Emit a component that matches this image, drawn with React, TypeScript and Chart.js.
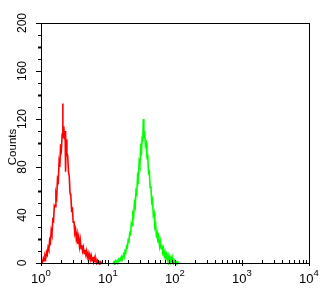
import React, { useEffect, useRef } from 'react';
import { Chart, registerables } from 'chart.js';

Chart.register(...registerables);

// Histogram channels (0..1024 = 4 log decades) and counts
const redChannels = [0, 3, 6, 9, 12, 15, 18, 21, 24, 27, 30, 33, 36, 39, 42, 45, 48, 51, 54, 57, 60, 63, 66, 69, 72, 75, 78, 81, 83, 84, 87, 90, 92, 94, 96, 99, 102, 105, 108, 111, 114, 117, 120, 123, 126, 129, 132, 135, 138, 141, 144, 147, 150, 153, 156, 159, 162, 165, 168, 171, 174, 177, 180, 183, 186, 189, 192, 195, 198, 201, 204, 207, 210, 213, 216, 219, 222, 225, 228, 231];
const redCounts = [0, 2, 1, 4, 2, 6, 4, 9, 7, 13, 11, 19, 17, 27, 24, 36, 35, 48, 47, 58, 55, 70, 68, 84, 80, 99, 95, 108, 133, 104, 114, 103, 110, 76, 103, 92, 89, 76, 72, 58, 56, 44, 45, 34, 35, 25, 28, 20, 24, 16, 21, 14, 19, 12, 15, 10, 13, 8, 11, 7, 10, 5, 8, 4, 7, 3, 6, 2, 5, 1, 4, 1, 3, 0, 2, 0, 1, 0, 1, 0];

const greenChannels = [276, 279, 282, 285, 288, 291, 294, 297, 300, 303, 306, 309, 312, 315, 318, 321, 324, 327, 330, 333, 336, 339, 342, 345, 348, 351, 354, 357, 360, 363, 366, 369, 372, 375, 378, 381, 384, 387, 389, 391, 393, 396, 399, 402, 405, 408, 411, 414, 417, 420, 423, 426, 429, 432, 435, 438, 441, 444, 447, 450, 453, 456, 459, 462, 465, 468, 471, 474, 477, 480, 483, 486, 489, 492, 495, 498, 501, 504, 507, 510, 513, 516, 519, 522, 525, 528];
const greenCounts = [0, 1, 0, 2, 1, 2, 1, 3, 2, 4, 2, 5, 4, 7, 5, 10, 9, 14, 13, 19, 18, 25, 24, 33, 31, 41, 39, 50, 47, 60, 58, 72, 69, 84, 81, 96, 93, 106, 101, 120, 104, 110, 98, 100, 88, 89, 75, 76, 63, 64, 51, 53, 40, 42, 30, 32, 23, 25, 17, 21, 14, 18, 12, 15, 9, 12, 6, 9, 4, 7, 3, 6, 2, 5, 1, 4, 1, 3, 0, 2, 0, 1, 0, 1, 0, 0];

const xDecadeExponents = ['0', '1', '2', '3', '4'];
const channelsPerDecade = 256;
const yTickValues = [0, 40, 80, 120, 160, 200];
const yAxisTitle = 'Counts';

const flowAxes = {
  id: 'flowAxes',
  afterDraw(chart: any) {
    const { ctx, chartArea: a, scales } = chart;
    const xs = scales.x;
    const ys = scales.y;
    ctx.save();
    ctx.strokeStyle = '#000';
    ctx.fillStyle = '#000';
    ctx.lineWidth = 1;
    // frame
    ctx.strokeRect(a.left + 0.5, a.top + 0.5, a.right - a.left, a.bottom - a.top);

    // y ticks every 10
    for (let v = 0; v <= 200; v += 10) {
      const py = Math.round(ys.getPixelForValue(v)) + 0.5;
      const major = v % 40 === 0;
      const mid = v % 20 === 0;
      ctx.lineWidth = mid && !major ? 2 : 1;
      ctx.beginPath();
      ctx.moveTo(a.left, py);
      ctx.lineTo(a.left - (major ? 5 : 3), py);
      ctx.stroke();
    }
    ctx.lineWidth = 1;

    // y labels
    ctx.font = '12px "Liberation Sans", Arial, sans-serif';
    ctx.textAlign = 'center';
    ctx.textBaseline = 'middle';
    yTickValues.forEach((v) => {
      const py = ys.getPixelForValue(v);
      ctx.save();
      ctx.translate(23, py);
      ctx.rotate(-Math.PI / 2);
      ctx.fillText(String(v), 0, 0);
      ctx.restore();
    });

    // y title
    ctx.save();
    ctx.font = '11.5px "Liberation Sans", Arial, sans-serif';
    ctx.translate(13, 147);
    ctx.rotate(-Math.PI / 2);
    ctx.fillText(yAxisTitle, 0, 0);
    ctx.restore();

    // x ticks (log minor)
    for (let d = 0; d < 4; d++) {
      for (let k = 2; k <= 9; k++) {
        const px = Math.round(xs.getPixelForValue(channelsPerDecade * (d + Math.log10(k)))) + 0.5;
        ctx.beginPath();
        ctx.moveTo(px, a.bottom);
        ctx.lineTo(px, a.bottom - 3);
        ctx.stroke();
      }
    }
    xDecadeExponents.forEach((e, i) => {
      const px = Math.round(xs.getPixelForValue(channelsPerDecade * i)) + 0.5;
      ctx.beginPath();
      ctx.moveTo(px, a.bottom - 3);
      ctx.lineTo(px, a.bottom + 3);
      ctx.stroke();
      ctx.textBaseline = 'alphabetic';
      ctx.font = '13px "Liberation Sans", Arial, sans-serif';
      ctx.textAlign = 'right';
      ctx.fillText('10', px + 4, 283);
      ctx.font = '9.5px "Liberation Sans", Arial, sans-serif';
      ctx.textAlign = 'left';
      ctx.fillText(e, px + 4, 276);
    });
    ctx.restore();
  },
};

export default function App() {
  const ref = useRef<HTMLCanvasElement | null>(null);
  useEffect(() => {
    if (!ref.current) return;
    const chart = new Chart(ref.current, {
      type: 'line',
      data: {
        datasets: [
          {
            label: 'red',
            data: redChannels.map((c, i) => ({ x: c, y: redCounts[i] })),
            borderColor: '#ff0000',
            borderWidth: 1.6,
            pointRadius: 0,
            tension: 0,
            clip: 2,
          },
          {
            label: 'green',
            data: greenChannels.map((c, i) => ({ x: c, y: greenCounts[i] })),
            borderColor: '#00ff00',
            borderWidth: 1.6,
            pointRadius: 0,
            tension: 0,
            clip: 2,
          },
        ],
      },
      options: {
        responsive: false,
        animation: false,
        layout: { padding: { left: 41, top: 23, right: 20, bottom: 35 } },
        plugins: { legend: { display: false }, tooltip: { enabled: false } },
        scales: {
          x: { type: 'linear', min: 0, max: 1024, display: false },
          y: { type: 'linear', min: 0, max: 200, display: false },
        },
      },
      plugins: [flowAxes],
    });
    return () => chart.destroy();
  }, []);
  return (
    <div style={{ position: 'fixed', left: 0, top: 0, width: 329, height: 298, background: '#fff' }}>
      <canvas ref={ref} width={329} height={298} />
    </div>
  );
}
